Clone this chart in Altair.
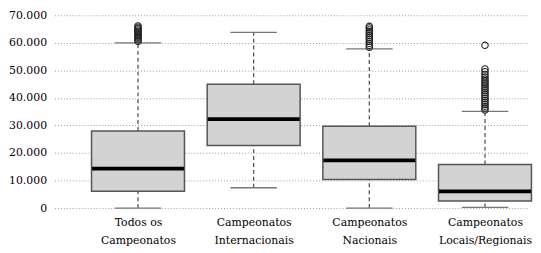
import altair as alt
import pandas as pd

categories = ["Todos os Campeonatos", "Campeonatos Internacionais",
              "Campeonatos Nacionais", "Campeonatos Locais/Regionais"]
label_lines = [["Todos os", "Campeonatos"], ["Campeonatos", "Internacionais"],
               ["Campeonatos", "Nacionais"], ["Campeonatos", "Locais/Regionais"]]
whisker_low = [0, 7400, 0, 250]
q1 = [6100, 22700, 10400, 2600]
median = [14300, 32300, 17300, 6100]
q3 = [28000, 45000, 29700, 15800]
whisker_high = [60000, 63800, 57800, 35100]

outliers_todos = [60500, 61000, 61500, 62000, 62400, 62800, 63200, 63700,
                  64200, 64700, 65200, 65700, 66100]
outliers_nacionais = [58400, 59100, 59800, 60500, 61200, 61900, 62600,
                      63300, 64000, 64700, 65400, 66000]
outliers_locais = [35600, 36300, 37000, 37700, 38400, 39100, 39800, 40500,
                   41200, 41900, 42600, 43300, 44000, 44700, 45400, 46100,
                   46800, 47600, 48500, 49500, 50500, 59100]

y_ticks = [0, 10000, 20000, 30000, 40000, 50000, 60000, 70000]

stats = pd.DataFrame({
    "cat": categories, "lo": whisker_low, "q1": q1, "med": median,
    "q3": q3, "hi": whisker_high,
})
out_rows = ([(categories[0], v) for v in outliers_todos] +
            [(categories[2], v) for v in outliers_nacionais] +
            [(categories[3], v) for v in outliers_locais])
outs = pd.DataFrame(out_rows, columns=["cat", "v"])

label_map = "{" + ",".join(
    '"%s": ["%s", "%s"]' % (c, l[0], l[1]) for c, l in zip(categories, label_lines)
) + "}"

FONT = "DejaVu Serif"

x_enc = alt.X("cat:N", sort=categories,
              scale=alt.Scale(type="point", padding=0.543, align=0.665),
              axis=alt.Axis(title=None, labelExpr=label_map + "[datum.label]",
                            ticks=False, domain=False, grid=False,
                            labelFontSize=11, labelFont=FONT, labelColor="#000",
                            labelPadding=9, labelAngle=0, labelLineHeight=18))
y_scale = alt.Scale(domain=[0, 70000], nice=False, zero=True)
y_axis = alt.Axis(title=None, values=y_ticks,
                  labelExpr="replace(format(datum.value, ','), ',', '.')",
                  ticks=False, domain=False, grid=True,
                  gridColor="#9a9a9a", gridDash=[1, 2], gridWidth=1,
                  labelFontSize=11, labelFont=FONT, labelColor="#000",
                  labelPadding=8)

base = alt.Chart(stats)

whisk_lo = base.mark_rule(color="#555", strokeDash=[4, 3], strokeWidth=1.3).encode(
    x=x_enc, y=alt.Y("lo:Q", scale=y_scale, axis=y_axis), y2="q1:Q")
whisk_hi = base.mark_rule(color="#555", strokeDash=[4, 3], strokeWidth=1.3).encode(
    x=x_enc, y=alt.Y("q3:Q", scale=y_scale, axis=y_axis), y2="hi:Q")
cap_lo = base.mark_tick(color="#777", size=47, thickness=1.4, orient="horizontal",
                        opacity=1).encode(
    x=x_enc, y=alt.Y("lo:Q", scale=y_scale, axis=y_axis))
cap_hi = base.mark_tick(color="#777", size=47, thickness=1.4, orient="horizontal",
                        opacity=1).encode(
    x=x_enc, y=alt.Y("hi:Q", scale=y_scale, axis=y_axis))
box = base.mark_bar(size=94, fill="#d3d3d3", stroke="#555", strokeWidth=1.5).encode(
    x=x_enc, y=alt.Y("q1:Q", scale=y_scale, axis=y_axis), y2="q3:Q")
med = base.mark_tick(color="#000", size=93, thickness=3.8, orient="horizontal",
                     opacity=1).encode(
    x=x_enc, y=alt.Y("med:Q", scale=y_scale, axis=y_axis))
pts = alt.Chart(outs).mark_point(shape="circle", filled=False, color="#222",
                                 size=42, strokeWidth=1.1, opacity=1).encode(
    x=x_enc, y=alt.Y("v:Q", scale=y_scale, axis=y_axis))

chart = alt.layer(whisk_lo, whisk_hi, cap_lo, cap_hi, box, med, pts).properties(
    width=478, height=195, background="white", padding=0
).configure(font=FONT).configure_view(stroke=None)

chart.save("out.html", embed_options={"renderer": "svg", "actions": False})
